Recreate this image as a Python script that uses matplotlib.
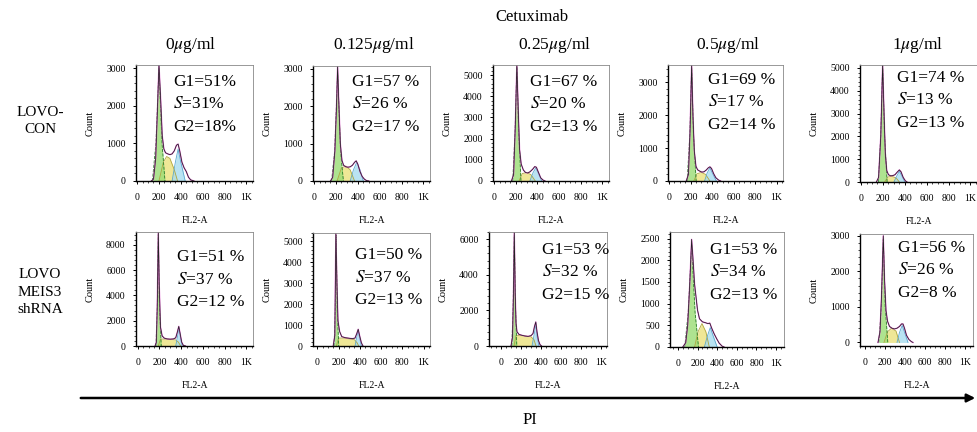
import numpy as np
import matplotlib
matplotlib.use("Agg")
import matplotlib.pyplot as plt
from matplotlib.patches import FancyArrowPatch
from matplotlib.ticker import MultipleLocator, FixedLocator

plt.rcParams['font.family'] = ['Liberation Serif', 'DejaVu Serif']
plt.rcParams['mathtext.fontset'] = 'stix'

# ---- data ----
doses = ["0$\\mu$g/ml", "0.125$\\mu$g/ml", "0.25$\\mu$g/ml", "0.5$\\mu$g/ml", "1$\\mu$g/ml"]
row_names = ["LOVO-\nCON", "LOVO\nMEIS3\nshRNA"]

con_g1_pct = [51, 57, 67, 69, 74]
con_s_pct = [31, 26, 20, 17, 13]
con_g2_pct = [18, 17, 13, 14, 13]
shr_g1_pct = [51, 50, 53, 53, 56]
shr_s_pct = [37, 37, 32, 34, 26]
shr_g2_pct = [12, 13, 15, 13, 8]

# DNA content histograms, (FL2-A channel, count)
con_outline = [
    [(130, 0), (150, 50), (170, 600), (185, 1800), (200, 3100), (215, 2200), (230, 1200), (245, 850),
     (260, 750), (280, 720), (300, 700), (320, 720), (340, 800), (360, 950), (375, 980), (390, 800),
     (410, 500), (430, 350), (450, 250), (470, 100), (490, 30), (520, 0)],
    [(150, 0), (170, 100), (190, 800), (205, 2000), (215, 3080), (225, 2200), (240, 1000), (255, 550),
     (270, 420), (290, 380), (310, 370), (330, 380), (350, 420), (370, 500), (385, 540), (400, 450),
     (420, 250), (440, 120), (460, 50), (480, 10), (500, 0)],
    [(160, 0), (180, 300), (195, 2500), (210, 5500), (222, 3500), (235, 1500), (250, 800), (270, 520),
     (290, 400), (310, 380), (330, 430), (355, 550), (375, 680), (390, 650), (410, 400), (430, 150),
     (450, 50), (470, 0)],
    [(160, 0), (180, 200), (195, 1500), (210, 3520), (222, 2000), (235, 900), (250, 450), (265, 340),
     (285, 300), (305, 270), (325, 280), (345, 330), (365, 400), (380, 430), (395, 380), (415, 220),
     (435, 100), (460, 30), (480, 0)],
    [(140, 0), (160, 200), (180, 2000), (197, 5150), (210, 3000), (222, 1200), (235, 500), (250, 320),
     (270, 270), (290, 280), (310, 320), (330, 430), (350, 530), (365, 450), (385, 200), (405, 50),
     (420, 0)],
]
con_g1 = [
    [(140, 0), (172, 1000), (200, 3000), (228, 1000), (255, 0)],
    [(160, 0), (188, 800), (215, 2900), (242, 800), (268, 0)],
    [(172, 0), (193, 2300), (210, 5400), (227, 2300), (248, 0)],
    [(168, 0), (193, 1400), (210, 3450), (227, 1400), (252, 0)],
    [(158, 0), (180, 2100), (197, 5100), (214, 2100), (238, 0)],
]
con_s = [
    [(200, 0), (240, 500), (270, 650), (300, 600), (340, 300), (370, 0)],
    [(210, 0), (250, 350), (290, 400), (330, 300), (370, 0)],
    [(230, 0), (260, 350), (300, 400), (340, 300), (380, 0)],
    [(230, 0), (260, 220), (300, 260), (340, 200), (380, 0)],
    [(215, 0), (245, 220), (280, 250), (320, 180), (350, 0)],
]
con_g2 = [
    [(320, 0), (350, 500), (375, 850), (400, 500), (440, 0)],
    [(330, 0), (360, 300), (390, 500), (420, 300), (450, 0)],
    [(330, 0), (360, 400), (385, 620), (410, 350), (440, 0)],
    [(330, 0), (355, 250), (380, 400), (405, 230), (440, 0)],
    [(300, 0), (325, 250), (350, 470), (375, 250), (400, 0)],
]

shr_outline = [
    [(160, 0), (172, 300), (180, 3000), (190, 9000), (198, 5000), (210, 1500), (225, 800), (245, 620),
     (270, 560), (300, 540), (330, 560), (350, 650), (365, 1100), (378, 1550), (390, 1000), (405, 300),
     (420, 50), (440, 0)],
    [(150, 0), (165, 500), (175, 5400), (185, 3000), (195, 1200), (210, 700), (230, 450), (260, 400),
     (300, 370), (330, 350), (355, 380), (372, 600), (385, 800), (398, 500), (415, 150), (430, 0)],
    [(100, 0), (115, 500), (125, 3000), (133, 6400), (142, 3000), (150, 1300), (160, 800), (180, 650),
     (210, 600), (240, 560), (270, 540), (300, 580), (320, 700), (335, 1100), (348, 1350), (360, 800),
     (375, 300), (390, 80), (405, 0)],
    [(50, 0), (80, 100), (100, 500), (120, 1400), (140, 2480), (155, 2000), (170, 1450), (185, 1150),
     (200, 850), (220, 650), (250, 580), (280, 560), (305, 540), (325, 550), (345, 430), (370, 300),
     (395, 190), (420, 90), (450, 20), (470, 0)],
    [(130, 0), (150, 300), (165, 1300), (183, 3000), (195, 1800), (210, 900), (225, 600), (245, 450),
     (270, 400), (295, 380), (320, 400), (345, 450), (365, 520), (380, 520), (395, 400), (415, 200),
     (440, 80), (465, 20), (480, 0)],
]
shr_g1 = [
    [(168, 0), (181, 3200), (190, 8800), (200, 3200), (217, 0)],
    [(158, 0), (169, 1700), (178, 5300), (188, 1700), (202, 0)],
    [(108, 0), (121, 2200), (133, 6200), (145, 2200), (158, 0)],
    [(70, 0), (105, 800), (140, 2350), (175, 800), (210, 0)],
    [(138, 0), (163, 1000), (183, 2900), (202, 1000), (228, 0)],
]
shr_s = [
    [(190, 0), (210, 550), (250, 550), (300, 520), (350, 480), (375, 300), (395, 0)],
    [(180, 0), (200, 380), (250, 380), (300, 340), (350, 300), (375, 150), (390, 0)],
    [(130, 0), (150, 600), (200, 600), (260, 550), (300, 520), (330, 350), (350, 0)],
    [(170, 0), (205, 350), (245, 540), (285, 350), (320, 0)],
    [(190, 0), (225, 300), (265, 400), (310, 320), (345, 0)],
]
shr_g2 = [
    [(350, 0), (365, 700), (380, 1450), (395, 600), (410, 0)],
    [(355, 0), (370, 400), (385, 750), (400, 350), (415, 0)],
    [(310, 0), (330, 600), (348, 1250), (362, 500), (380, 0)],
    [(270, 0), (300, 250), (330, 450), (360, 250), (400, 0)],
    [(320, 0), (345, 280), (372, 480), (400, 250), (430, 0)],
]

x_ticks = [0, 200, 400, 600, 800, 1000]
x_tick_labels = ["0", "200", "400", "600", "800", "1K"]

# ---- layout (pixels: left, right, top, bottom) ----
W, H = 978, 432
boxes = [
    [(136, 253, 65, 181), (313, 430, 66, 181), (493, 609, 65, 181), (668, 783, 65, 181), (860, 977, 65, 182)],
    [(136, 253, 232, 346), (313, 430, 233, 346), (489, 607, 232, 346), (670, 784, 232, 347), (860, 973, 234, 346)],
]
ylims = [
    [(0, 3080), (0, 3080), (0, 5480), (0, 3520), (0, 5130)],
    [(0, 9000), (0, 5400), (0, 6400), (0, 2650), (-100, 3050)],
]
ystep = [[1000, 1000, 1000, 1000, 1000], [2000, 1000, 2000, 500, 1000]]
ymax_tick = [[3000, 3000, 5000, 3000, 5000], [8000, 5000, 6000, 2500, 3000]]
xlims = [
    [(-10, 1060)] * 5,
    [(-15, 1060), (-40, 1060), (-120, 1060), (-80, 1080), (-50, 1080)],
]
text_pos = [
    [(173, 82), (352, 82), (530, 82), (708, 80), (897, 78)],
    [(177, 257), (355, 255), (542, 250), (710, 250), (898, 248)],
]

fig = plt.figure(figsize=(W / 100, H / 100), dpi=100)


def fx(px):
    return px / W


def fy(py):
    return 1 - py / H


def draw_component(ax, pts, face, edge, ls='-'):
    ch, ct = zip(*pts)
    ax.fill_between(ch, ct, 0, color=face, alpha=0.8, lw=0)
    ax.plot(ch, ct, color=edge, lw=0.6, ls=ls)


rows = [
    (con_outline, con_g1, con_s, con_g2, con_g1_pct, con_s_pct, con_g2_pct),
    (shr_outline, shr_g1, shr_s, shr_g2, shr_g1_pct, shr_s_pct, shr_g2_pct),
]

for r, (outline, g1, s, g2, p1, ps, p2) in enumerate(rows):
    for c in range(5):
        l, rt, t, b = boxes[r][c]
        ax = fig.add_axes([fx(l), fy(b), (rt - l) / W, (b - t) / H])

        draw_component(ax, s[c], "#ebe27c", "#b0a640")
        draw_component(ax, g2[c], "#a8dcef", "#5aa8d0")
        draw_component(ax, g1[c], "#9adc74", "#2a7a2a", ls='--')
        ch, ct = zip(*outline[c])
        # fitted model (magenta) under the raw histogram trace
        ax.plot(ch, ct, color="#e55ad2", lw=1.0, alpha=0.85)
        ax.plot(ch, ct, color="#222222", lw=0.55)

        ax.set_xlim(*xlims[r][c])
        ax.set_ylim(*ylims[r][c])
        ax.xaxis.set_major_locator(FixedLocator(x_ticks))
        ax.set_xticklabels(x_tick_labels)
        ax.xaxis.set_minor_locator(MultipleLocator(50))
        ax.yaxis.set_major_locator(FixedLocator(list(range(0, ymax_tick[r][c] + 1, ystep[r][c]))))
        ax.yaxis.set_minor_locator(MultipleLocator(ystep[r][c] / 5))
        ax.tick_params(which='major', length=2.5, width=0.7, labelsize=7, pad=6)
        ax.tick_params(which='minor', length=1.3, width=0.5)
        ax.tick_params(axis='y', pad=5)

        for side in ('top', 'right'):
            ax.spines[side].set_color("#888888")
            ax.spines[side].set_linewidth(0.6)
        for side in ('left', 'bottom'):
            ax.spines[side].set_color("black")
            ax.spines[side].set_linewidth(1.0)

        ax.set_xlabel("FL2-A", fontsize=7, labelpad=10)
        ax.set_ylabel("Count", fontsize=7.5, labelpad=8)

        sep = "" if (r == 0 and c == 0) else " "
        tx, ty = text_pos[r][c]
        lines = [f"G1={p1[c]}{sep}%", f"$S$={ps[c]}{sep}%", f"G2={p2[c]}{sep}%"]
        for k, line in enumerate(lines):
            fig.text(fx(tx), fy(ty + 22.5 * k), line, fontsize=12.5, va='center', ha='left')

# column headings
fig.text(fx(532), fy(17), "Cetuximab", fontsize=12, ha='center', va='center')
title_x = [191, 374, 555, 728, 918]
for x, d in zip(title_x, doses):
    fig.text(fx(x), fy(45), d, fontsize=12.5, ha='center', va='center')

# row labels
fig.text(fx(40), fy(121), row_names[0], fontsize=11, ha='center', va='center', linespacing=1.45)
fig.text(fx(40), fy(292), row_names[1], fontsize=11, ha='center', va='center', linespacing=1.45)

# PI axis arrow
arrow = FancyArrowPatch((fx(78), fy(398)), (fx(978), fy(398)), transform=fig.transFigure,
                        arrowstyle='-|>', mutation_scale=12, lw=1.8, color='black')
fig.add_artist(arrow)
fig.text(fx(530), fy(420), "PI", fontsize=12, ha='center', va='center')

fig.savefig("out.png", dpi=100)
